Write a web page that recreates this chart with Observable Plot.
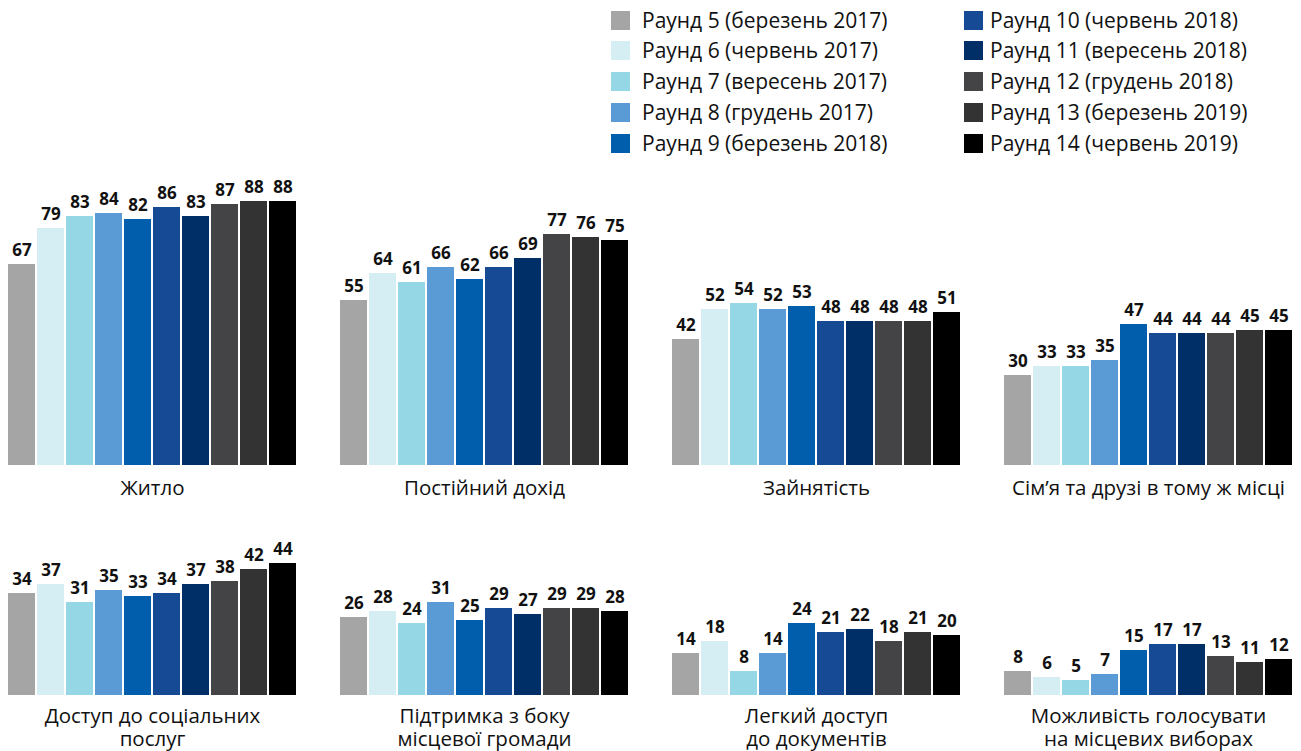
<!DOCTYPE html>
<html>
<head>
<meta charset="utf-8">
<script src="https://cdn.jsdelivr.net/npm/d3@7"></script>
<script src="https://cdn.jsdelivr.net/npm/@observablehq/plot@0.6"></script>
<style>
  html, body { margin: 0; padding: 0; background: #fff; }
  body { width: 1301px; height: 751px; overflow: hidden; font-family: "Open Sans", sans-serif; }
  #legend { position: relative; height: 165px; }
  .item { position: absolute; display: flex; align-items: center; font-size: 21px; color: #111; white-space: nowrap; }
  .sw { width: 19px; height: 19px; margin-right: 12px; flex: none; }
  #row1 svg, #row2 svg { display: block; }
</style>
</head>
<body>
<div id="legend"></div>
<div id="row1"></div>
<div id="row2"></div>
<script>
const rounds = [
  "Раунд 5 (березень 2017)", "Раунд 6 (червень 2017)", "Раунд 7 (вересень 2017)",
  "Раунд 8 (грудень 2017)", "Раунд 9 (березень 2018)", "Раунд 10 (червень 2018)",
  "Раунд 11 (вересень 2018)", "Раунд 12 (грудень 2018)", "Раунд 13 (березень 2019)",
  "Раунд 14 (червень 2019)"
];
const colors = ["#a5a5a5", "#d5eef3", "#96d7e5", "#5b9bd5", "#005eac",
  "#164a94", "#002f67", "#444447", "#333333", "#000000"];

const row1Cats = ["Житло", "Постійний дохід", "Зайнятість", "Сім’я та друзі в тому ж місці"];
const row1Values = [
  [67, 79, 83, 84, 82, 86, 83, 87, 88, 88],
  [55, 64, 61, 66, 62, 66, 69, 77, 76, 75],
  [42, 52, 54, 52, 53, 48, 48, 48, 48, 51],
  [30, 33, 33, 35, 47, 44, 44, 44, 45, 45]
];
const row2Cats = ["Доступ до соціальних\nпослуг", "Підтримка з боку\nмісцевої громади",
  "Легкий доступ\nдо документів", "Можливість голосувати\nна місцевих виборах"];
const row2Values = [
  [34, 37, 31, 35, 33, 34, 37, 38, 42, 44],
  [26, 28, 24, 31, 25, 29, 27, 29, 29, 28],
  [14, 18, 8, 14, 24, 21, 22, 18, 21, 20],
  [8, 6, 5, 7, 15, 17, 17, 13, 11, 12]
];

// Legend
const legend = document.getElementById("legend");
const legendCols = [{x: 611, gap: 12}, {x: 964, gap: 7}];
const legendRows = [20, 50, 81, 112, 143];
rounds.forEach((r, i) => {
  const col = legendCols[Math.floor(i / 5)];
  const div = document.createElement("div");
  div.className = "item";
  div.style.left = col.x + "px";
  div.style.top = (legendRows[i % 5] - 14) + "px";
  div.style.height = "28px";
  const sw = document.createElement("span");
  sw.className = "sw";
  sw.style.background = colors[i];
  sw.style.marginRight = col.gap + "px";
  const t = document.createElement("span");
  t.textContent = r;
  div.appendChild(sw); div.appendChild(t);
  legend.appendChild(div);
});

function makeRow(cats, values, opts) {
  const data = [];
  cats.forEach((c, i) => values[i].forEach((v, j) => data.push({cat: c, round: rounds[j], value: v})));
  return Plot.plot({
    width: 1301,
    height: opts.height,
    marginTop: opts.marginTop,
    marginBottom: opts.marginBottom,
    marginLeft: 7,
    marginRight: 8,
    style: {fontFamily: "Open Sans, sans-serif", color: "#111", background: "#fff"},
    fx: {domain: cats, paddingInner: 0.127, paddingOuter: 0, axis: null, label: null},
    x: {domain: rounds, paddingInner: 0.07, paddingOuter: 0, axis: null},
    y: {domain: opts.yDomain, axis: null},
    color: {domain: rounds, range: colors},
    marks: [
      Plot.barY(data, {fx: "cat", x: "round", y: "value", fill: "round"}),
      Plot.text(data, {fx: "cat", x: "round", y: "value", text: d => String(d.value),
        dy: -14, fontWeight: "bold", fontSize: 17, fill: "#111"}),
      Plot.text(cats, {fx: d => d, text: d => d, frameAnchor: "bottom", dy: opts.labelDy,
        lineAnchor: "top", fontSize: 20.5, lineHeight: 23 / 20.5, fill: "#111"})
    ]
  });
}

document.getElementById("row1").appendChild(makeRow(row1Cats, row1Values,
  {height: 340, marginTop: 0, marginBottom: 40, yDomain: [0, 100], labelDy: 13}));
document.getElementById("row2").appendChild(makeRow(row2Cats, row2Values,
  {height: 246, marginTop: 10, marginBottom: 56, yDomain: [0, 60], labelDy: 11}));
</script>
</body>
</html>
